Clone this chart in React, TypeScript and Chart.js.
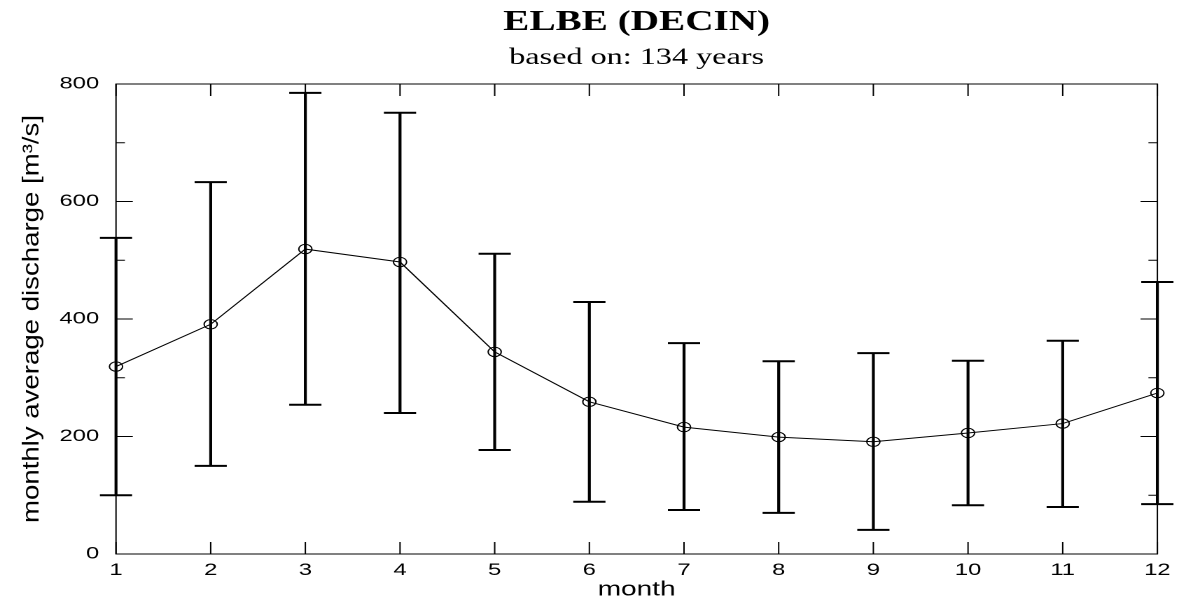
import React, { useEffect, useRef } from "react";
import { Chart, registerables } from "chart.js";

Chart.register(...registerables);

// ---- data ----
const months = [1, 2, 3, 4, 5, 6, 7, 8, 9, 10, 11, 12];
const meanQ = [319, 391, 519, 497, 344, 259, 216, 199, 191, 206, 222, 274];
const upperQ = [538, 633, 785, 751, 511, 429, 359, 328, 342, 329, 363, 463];
const lowerQ = [100, 150, 254, 240, 177, 89, 75, 70, 41, 83, 80, 85];
const yMajorTicks = [0, 200, 400, 600, 800];
const yMinorTicks = [100, 300, 500, 700];
const titleText = "ELBE (DECIN)";
const subtitleText = "based on: 134 years";
const xLabel = "month";
const yLabel = "monthly average discharge [m\u00B3/s]";

// ---- layout (the figure is horizontally stretched) ----
const FULL_W = 1179;
const H = 600;
const W = 842;
const S = FULL_W / W;
const SANS = '"Liberation Sans", Arial, Helvetica, sans-serif';
const SERIF = '"Liberation Serif", "Times New Roman", serif';

const decorPlugin = {
  id: "decor",
  afterDatasetsDraw(chart: any) {
    const { ctx, scales } = chart;
    const x = scales.x;
    const y = scales.y;
    ctx.save();
    ctx.strokeStyle = "#000";
    for (let i = 0; i < months.length; i++) {
      const px = x.getPixelForValue(months[i]);
      const pTop = y.getPixelForValue(upperQ[i]);
      const pBot = y.getPixelForValue(lowerQ[i]);
      ctx.lineWidth = 2.1;
      ctx.beginPath();
      ctx.moveTo(px, pTop);
      ctx.lineTo(px, pBot);
      ctx.stroke();
      ctx.lineWidth = 2;
      ctx.beginPath();
      ctx.moveTo(px - 11.5, pTop);
      ctx.lineTo(px + 11.5, pTop);
      ctx.moveTo(px - 11.5, pBot);
      ctx.lineTo(px + 11.5, pBot);
      ctx.stroke();
    }
    ctx.restore();
  },
  afterDraw(chart: any) {
    const { ctx, chartArea: a, scales } = chart;
    const x = scales.x;
    const y = scales.y;
    ctx.save();
    ctx.strokeStyle = "#000";
    ctx.lineWidth = 1;
    ctx.strokeRect(a.left, a.top, a.right - a.left, a.bottom - a.top);
    ctx.beginPath();
    for (const v of yMajorTicks) {
      const py = y.getPixelForValue(v);
      ctx.moveTo(a.left, py);
      ctx.lineTo(a.left + 12, py);
      ctx.moveTo(a.right, py);
      ctx.lineTo(a.right - 12, py);
    }
    for (const v of yMinorTicks) {
      const py = y.getPixelForValue(v);
      ctx.moveTo(a.left, py);
      ctx.lineTo(a.left + 6.4, py);
      ctx.moveTo(a.right, py);
      ctx.lineTo(a.right - 6.4, py);
    }
    for (const m of months) {
      const px = x.getPixelForValue(m);
      ctx.moveTo(px, a.bottom);
      ctx.lineTo(px, a.bottom - 12);
      ctx.moveTo(px, a.top);
      ctx.lineTo(px, a.top + 12);
    }
    ctx.stroke();

    // titles
    const cx = (a.left + a.right) / 2;
    ctx.fillStyle = "#000";
    ctx.textAlign = "center";
    ctx.textBaseline = "alphabetic";
    ctx.font = `bold 28px ${SERIF}`;
    ctx.fillText(titleText, cx, 30);
    ctx.font = `23px ${SERIF}`;
    ctx.fillText(subtitleText, cx, 64);

    // y axis label (not stretched horizontally)
    ctx.save();
    ctx.translate(23.2, (a.top + a.bottom) / 2);
    ctx.scale(1 / S, 1.2);
    ctx.rotate(-Math.PI / 2);
    ctx.font = `23px ${SANS}`;
    ctx.textAlign = "center";
    ctx.textBaseline = "middle";
    ctx.fillText(yLabel, 0, 0);
    ctx.restore();
    ctx.restore();
  },
};

export default function App() {
  const ref = useRef<HTMLCanvasElement>(null);
  useEffect(() => {
    if (!ref.current) return;
    const chart = new Chart(ref.current, {
      type: "line",
      data: {
        datasets: [
          {
            data: months.map((m, i) => ({ x: m, y: meanQ[i] })),
            borderColor: "#000",
            borderWidth: 1,
            pointStyle: "circle",
            pointRadius: 4.7,
            pointBorderWidth: 1,
            pointBorderColor: "#000",
            pointBackgroundColor: "rgba(0,0,0,0)",
            tension: 0,
            clip: false,
          },
        ],
      },
      plugins: [decorPlugin],
      options: {
        animation: false,
        responsive: true,
        maintainAspectRatio: false,
        devicePixelRatio: 2,
        layout: { padding: { top: 84, right: W - 1161 / S, bottom: 0, left: 0 } },
        plugins: { legend: { display: false }, tooltip: { enabled: false }, title: { display: false } },
        scales: {
          x: {
            type: "linear",
            min: 1,
            max: 12,
            afterBuildTicks: (s: any) => {
              s.ticks = months.map((v) => ({ value: v }));
            },
            afterFit: (s: any) => {
              s.height = H - 554;
            },
            grid: { display: false, drawTicks: false },
            border: { display: false },
            ticks: {
              color: "#000",
              font: { family: SANS, size: 17 },
              padding: 6,
              maxRotation: 0,
              autoSkip: false,
            },
            title: {
              display: true,
              text: xLabel,
              color: "#000",
              font: { family: SANS, size: 20, lineHeight: 1 },
              padding: { top: 0, bottom: 0 },
            },
          },
          y: {
            type: "linear",
            min: 0,
            max: 800,
            afterBuildTicks: (s: any) => {
              s.ticks = yMajorTicks.map((v) => ({ value: v }));
            },
            afterFit: (s: any) => {
              s.width = 116 / S;
            },
            grid: { display: false, drawTicks: false },
            border: { display: false },
            ticks: {
              color: "#000",
              font: { family: SANS, size: 17 },
              padding: 12,
            },
          },
        },
      },
    });
    return () => chart.destroy();
  }, []);

  return (
    <div
      style={{
        position: "absolute",
        left: 0,
        top: 0,
        width: FULL_W,
        height: H,
        overflow: "hidden",
        background: "#fff",
      }}
    >
      <div
        style={{
          position: "relative",
          width: W,
          height: H,
          transform: `scaleX(${S})`,
          transformOrigin: "0 0",
        }}
      >
        <canvas ref={ref} />
      </div>
    </div>
  );
}
